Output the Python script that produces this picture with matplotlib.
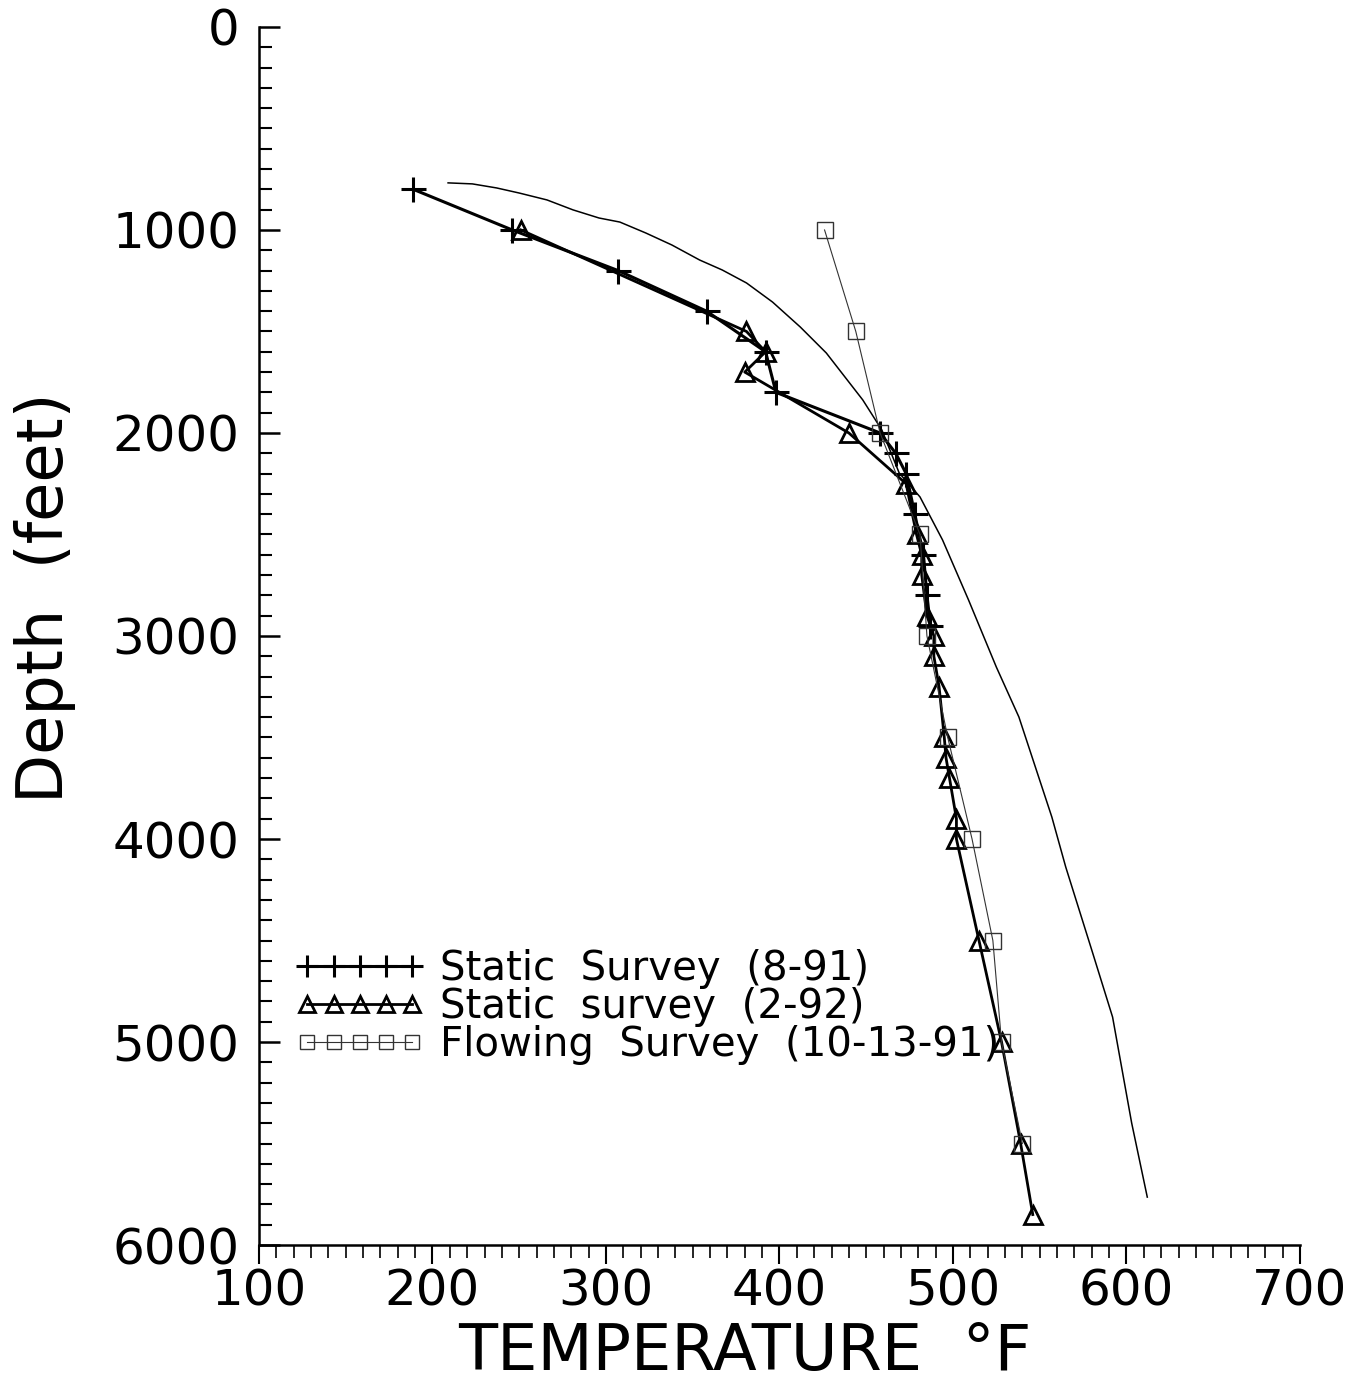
import matplotlib
matplotlib.use('Agg')
import matplotlib.pyplot as plt
from matplotlib.ticker import MultipleLocator

# Static Survey (8-91)
depth_891 = [800, 1000, 1200, 1400, 1600, 1800, 2000, 2100, 2200, 2400, 2600, 2800, 2950]
temp_891 = [189, 246, 307, 358, 392, 398, 458, 467, 473, 478, 483, 485, 487]

# Static survey (2-92)
depth_292 = [1000, 1500, 1600, 1700, 2000, 2250, 2500, 2600, 2700, 2900, 3000, 3100,
             3250, 3500, 3600, 3700, 3900, 4000, 4500, 5000, 5500, 5850]
temp_292 = [251, 381, 392, 380, 440, 473, 479, 482, 482, 485, 489, 489,
            492, 495, 496, 498, 502, 502, 515, 528, 539, 546]

# Flowing Survey (10-13-91)
depth_flow = [1000, 1500, 2000, 2500, 3000, 3500, 4000, 4500, 5000, 5500]
temp_flow = [426, 444, 458, 481, 485, 497, 511, 523, 528, 540]

# smooth curve (no legend entry)
curve_temp = [209, 223, 237, 250, 266, 281, 296, 308, 323, 338, 354, 367, 381, 396,
              412, 427, 448, 459, 469, 481, 494, 509, 525, 538, 557, 565, 580, 592,
              603, 612]
curve_depth = [768, 773, 793, 818, 852, 901, 941, 961, 1015, 1074, 1148, 1197, 1261, 1355,
               1478, 1606, 1837, 1985, 2197, 2315, 2527, 2823, 3153, 3399, 3892, 4138, 4547, 4877,
               5399, 5764]

fig = plt.figure(figsize=(13.53, 13.9), dpi=100)
ax = fig.add_axes([0.1914, 0.1043, 0.7694, 0.8763])

ax.plot(curve_temp, curve_depth, color='black', lw=1.1)
ax.plot(temp_891, depth_891, color='black', lw=2.2, marker='+', markersize=18,
        markeredgewidth=2.2, label='Static  Survey  (8-91)')
ax.plot(temp_292, depth_292, color='black', lw=2.0, marker='^', markersize=13,
        markerfacecolor='none', markeredgewidth=2.0, label='Static  survey  (2-92)')
ax.plot(temp_flow, depth_flow, color='#333333', lw=0.8, marker='s', markersize=12,
        markerfacecolor='none', markeredgewidth=1.0, label='Flowing  Survey  (10-13-91)')

ax.set_xlim(100, 700)
ax.set_ylim(6000, 0)
ax.xaxis.set_major_locator(MultipleLocator(100))
ax.xaxis.set_minor_locator(MultipleLocator(10))
ax.yaxis.set_major_locator(MultipleLocator(1000))
ax.yaxis.set_minor_locator(MultipleLocator(100))

ax.spines['top'].set_visible(False)
ax.spines['right'].set_visible(False)
ax.spines['left'].set_linewidth(1.8)
ax.spines['bottom'].set_linewidth(1.8)

ax.tick_params(axis='y', which='major', direction='in', length=15, width=1.8, labelsize=36, pad=14)
ax.tick_params(axis='y', which='minor', direction='in', length=9, width=1.5)
ax.tick_params(axis='x', which='major', direction='out', length=14, width=1.5, labelsize=36, pad=2)
ax.tick_params(axis='x', which='minor', direction='out', length=9, width=1.2)

ax.set_xlabel('TEMPERATURE  °F', fontsize=46)
ax.set_ylabel('Depth  (feet)', fontsize=46)
ax.xaxis.set_label_coords(0.467, -0.062)
ax.yaxis.set_label_coords(-0.176, 0.531)

ax.legend(loc='upper left', bbox_to_anchor=(0.035, 0.243), frameon=False, fontsize=29,
          numpoints=5, handlelength=3.2, handletextpad=0.4, labelspacing=-0.05,
          borderaxespad=0, borderpad=0, markerscale=0.85)

fig.savefig('out.png', dpi=100, facecolor='white')
